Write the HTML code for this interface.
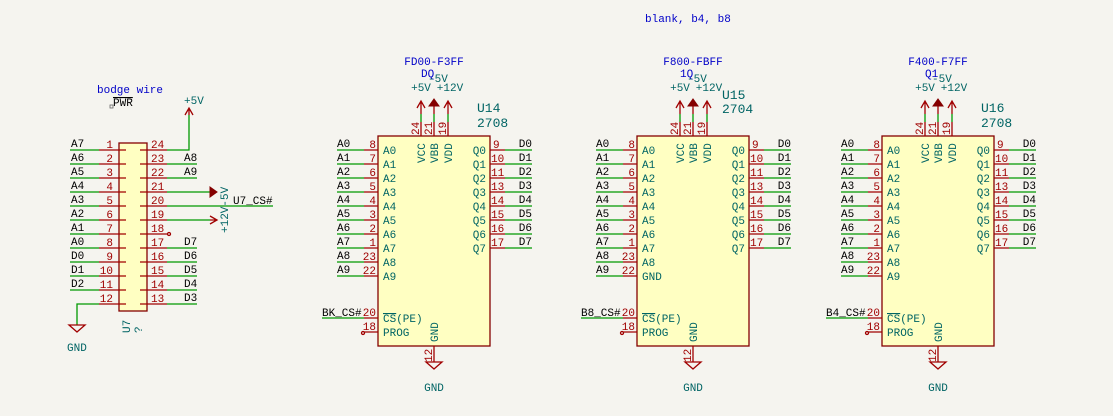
<!DOCTYPE html>
<html><head><meta charset="utf-8"><style>
html,body{margin:0;padding:0;background:#f5f4ef;}
svg{display:block;}
text{font-family:"Liberation Mono",monospace;font-size:11px;}
.r{fill:#a00000}.t{fill:#006464}.k{fill:#000}.b{fill:#0000c8}
.rl{stroke:#a00000;stroke-width:1.3;fill:none}.gl{stroke:#009900;stroke-width:1.3;fill:none}
</style></head><body>
<svg width="1113" height="416" xmlns="http://www.w3.org/2000/svg">
<defs>
<g id="chip">
<rect x="378" y="136" width="112" height="210" fill="#ffffc2" stroke="#840000" stroke-width="1.3"/>
<path class="gl" d="M337 150H364M337 164H364M337 178H364M337 192H364M337 206H364M337 220H364M337 234H364M337 248H364M337 262H364M337 276H364M322 318H364"/>
<path class="rl" d="M364 150H378M364 164H378M364 178H378M364 192H378M364 206H378M364 220H378M364 234H378M364 248H378M364 262H378M364 276H378M364 318H378M364 332H378"/>
<circle cx="363" cy="333" r="1.5" class="rl"/>
<path class="gl" d="M505 150H532M505 164H532M505 178H532M505 192H532M505 206H532M505 220H532M505 234H532M505 248H532"/>
<path class="rl" d="M490 150H505M490 164H505M490 178H505M490 192H505M490 206H505M490 220H505M490 234H505M490 248H505"/>
<path class="gl" d="M421 114V122M434 114V122M448 114V122"/>
<path class="rl" d="M421 122V136M434 122V136M448 122V136M421 101V114M434 101V114M448 101V114M417 108L421 101L425 108M444 108L448 101L452 108M434 346V362"/>
<path d="M429 106L434 99L439 106Z" fill="#840000" stroke="#840000"/>
<path class="rl" d="M426 362H442L434 369Z"/>
</g>
</defs>

<text x="645" y="22" class="b">blank, b4, b8</text>

<text x="97" y="93" class="b">bodge wire</text>
<text x="113" y="106" class="k" style="text-decoration:overline">PWR</text>
<rect x="110" y="105" width="3" height="3" fill="none" stroke="#666" stroke-width="0.8"/>
<text x="184" y="104" class="t">+5V</text>
<rect x="119" y="143" width="28" height="168" fill="#ffffc2" stroke="#840000" stroke-width="1.3"/>
<path class="gl" d="M70 150H99M70 164H99M70 178H99M70 192H99M70 206H99M70 220H99M70 234H99M70 248H99M70 262H99M70 276H99M70 290H99M99 304H77V325M167 150H189V115M167 164H197M167 178H197M167 192H210M167 206H273M167 220H210M167 248H197M167 262H197M167 276H197M167 290H197M167 304H197"/>
<path class="rl" d="M99 150H126M99 164H126M99 178H126M99 192H126M99 206H126M99 220H126M99 234H126M99 248H126M99 262H126M99 276H126M99 290H126M99 304H126M140 150H167M140 164H167M140 178H167M140 192H167M140 206H167M140 220H167M140 234H167M140 248H167M140 262H167M140 276H167M140 290H167M140 304H167M189 115V108M185 115L189 108L193 115M210 220H217M210 216L217 220L210 224M69 325H85L77 332Z"/>
<path d="M210 187L217 192L210 197Z" fill="#840000" stroke="#840000"/>
<circle cx="169" cy="234" r="1.5" class="rl"/>
<g class="r" text-anchor="end">
<text x="113" y="148">1</text><text x="113" y="162">2</text><text x="113" y="176">3</text><text x="113" y="190">4</text><text x="113" y="204">5</text><text x="113" y="218">6</text><text x="113" y="232">7</text><text x="113" y="246">8</text><text x="113" y="260">9</text><text x="113" y="274">10</text><text x="113" y="288">11</text><text x="113" y="302">12</text>
</g>
<g class="r">
<text x="151" y="148">24</text><text x="151" y="162">23</text><text x="151" y="176">22</text><text x="151" y="190">21</text><text x="151" y="204">20</text><text x="151" y="218">19</text><text x="151" y="232">18</text><text x="151" y="246">17</text><text x="151" y="260">16</text><text x="151" y="274">15</text><text x="151" y="288">14</text><text x="151" y="302">13</text>
</g>
<g class="k">
<text x="71" y="147">A7</text><text x="71" y="161">A6</text><text x="71" y="175">A5</text><text x="71" y="189">A4</text><text x="71" y="203">A3</text><text x="71" y="217">A2</text><text x="71" y="231">A1</text><text x="71" y="245">A0</text><text x="71" y="259">D0</text><text x="71" y="273">D1</text><text x="71" y="287">D2</text>
<text x="184" y="161">A8</text><text x="184" y="175">A9</text><text x="184" y="245">D7</text><text x="184" y="259">D6</text><text x="184" y="273">D5</text><text x="184" y="287">D4</text><text x="184" y="301">D3</text>
<text x="233" y="204">U7_CS#</text>
</g>
<text transform="translate(228,233) rotate(-90)" class="t">+12V-5V</text>
<text transform="translate(130,333) rotate(-90)" class="t">U7</text>
<text transform="translate(142,333) rotate(-90)" class="t">?</text>
<text x="67" y="351" class="t">GND</text>

<use href="#chip"/>
<use href="#chip" x="259"/>
<use href="#chip" x="504"/>

<g>
<text x="434" y="65" class="b" text-anchor="middle">FD00-F3FF</text>
<text x="421" y="77" class="b">DQ</text><text x="428" y="82" class="t">-5V</text>
<text x="421" y="91" class="t" text-anchor="middle">+5V</text><text x="450" y="91" class="t" text-anchor="middle">+12V</text>
<text x="477" y="112" class="t" style="font-size:13px">U14</text><text x="477" y="127" class="t" style="font-size:13px">2708</text>
<text x="322" y="316" class="k">BK_CS#</text>
<text x="434" y="391" class="t" text-anchor="middle">GND</text>
</g>
<g transform="translate(259,0)">
<text x="434" y="65" class="b" text-anchor="middle">F800-FBFF</text>
<text x="421" y="77" class="b">1Q</text><text x="428" y="82" class="t">-5V</text>
<text x="421" y="91" class="t" text-anchor="middle">+5V</text><text x="450" y="91" class="t" text-anchor="middle">+12V</text>
<text x="463" y="99" class="t" style="font-size:13px">U15</text><text x="463" y="113" class="t" style="font-size:13px">2704</text>
<text x="322" y="316" class="k">B8_CS#</text>
<text x="434" y="391" class="t" text-anchor="middle">GND</text>
</g>
<g transform="translate(504,0)">
<text x="434" y="65" class="b" text-anchor="middle">F400-F7FF</text>
<text x="421" y="77" class="b">Q1</text><text x="428" y="82" class="t">-5V</text>
<text x="421" y="91" class="t" text-anchor="middle">+5V</text><text x="450" y="91" class="t" text-anchor="middle">+12V</text>
<text x="477" y="112" class="t" style="font-size:13px">U16</text><text x="477" y="127" class="t" style="font-size:13px">2708</text>
<text x="322" y="316" class="k">B4_CS#</text>
<text x="434" y="391" class="t" text-anchor="middle">GND</text>
</g>

<text x="383" y="280" class="t">A9</text>
<text x="642" y="280" class="t">GND</text>
<text x="887" y="280" class="t">A9</text>

<g>
<g class="r" text-anchor="end">
<text x="376" y="148">8</text><text x="376" y="162">7</text><text x="376" y="176">6</text><text x="376" y="190">5</text><text x="376" y="204">4</text><text x="376" y="218">3</text><text x="376" y="232">2</text><text x="376" y="246">1</text><text x="376" y="260">23</text><text x="376" y="274">22</text><text x="376" y="316">20</text><text x="376" y="330">18</text>
</g>
<g class="r">
<text x="493" y="148">9</text><text x="491" y="162">10</text><text x="491" y="176">11</text><text x="491" y="190">13</text><text x="491" y="204">14</text><text x="491" y="218">15</text><text x="491" y="232">16</text><text x="491" y="246">17</text>
<text transform="translate(419,135) rotate(-90)">24</text><text transform="translate(432,135) rotate(-90)">21</text><text transform="translate(446,135) rotate(-90)">19</text>
<text transform="translate(432,362) rotate(-90)">12</text>
</g>
<g class="k">
<text x="337" y="147">A0</text><text x="337" y="161">A1</text><text x="337" y="175">A2</text><text x="337" y="189">A3</text><text x="337" y="203">A4</text><text x="337" y="217">A5</text><text x="337" y="231">A6</text><text x="337" y="245">A7</text><text x="337" y="259">A8</text><text x="337" y="273">A9</text>
</g>
<g class="k" text-anchor="end">
<text x="532" y="147">D0</text><text x="532" y="161">D1</text><text x="532" y="175">D2</text><text x="532" y="189">D3</text><text x="532" y="203">D4</text><text x="532" y="217">D5</text><text x="532" y="231">D6</text><text x="532" y="245">D7</text>
</g>
<g class="t">
<text x="383" y="154">A0</text><text x="383" y="168">A1</text><text x="383" y="182">A2</text><text x="383" y="196">A3</text><text x="383" y="210">A4</text><text x="383" y="224">A5</text><text x="383" y="238">A6</text><text x="383" y="252">A7</text><text x="383" y="266">A8</text>
<text x="383" y="322"><tspan style="text-decoration:overline">CS</tspan>(PE)</text><text x="383" y="336">PROG</text>
<text transform="translate(425,163) rotate(-90)">VCC</text><text transform="translate(438,163) rotate(-90)">VBB</text><text transform="translate(452,163) rotate(-90)">VDD</text>
<text transform="translate(438,342) rotate(-90)">GND</text>
</g>
<g class="t" text-anchor="end">
<text x="486" y="154">Q0</text><text x="486" y="168">Q1</text><text x="486" y="182">Q2</text><text x="486" y="196">Q3</text><text x="486" y="210">Q4</text><text x="486" y="224">Q5</text><text x="486" y="238">Q6</text><text x="486" y="252">Q7</text>
</g>
</g>

<g transform="translate(259,0)">
<g class="r" text-anchor="end">
<text x="376" y="148">8</text><text x="376" y="162">7</text><text x="376" y="176">6</text><text x="376" y="190">5</text><text x="376" y="204">4</text><text x="376" y="218">3</text><text x="376" y="232">2</text><text x="376" y="246">1</text><text x="376" y="260">23</text><text x="376" y="274">22</text><text x="376" y="316">20</text><text x="376" y="330">18</text>
</g>
<g class="r">
<text x="493" y="148">9</text><text x="491" y="162">10</text><text x="491" y="176">11</text><text x="491" y="190">13</text><text x="491" y="204">14</text><text x="491" y="218">15</text><text x="491" y="232">16</text><text x="491" y="246">17</text>
<text transform="translate(419,135) rotate(-90)">24</text><text transform="translate(432,135) rotate(-90)">21</text><text transform="translate(446,135) rotate(-90)">19</text>
<text transform="translate(432,362) rotate(-90)">12</text>
</g>
<g class="k">
<text x="337" y="147">A0</text><text x="337" y="161">A1</text><text x="337" y="175">A2</text><text x="337" y="189">A3</text><text x="337" y="203">A4</text><text x="337" y="217">A5</text><text x="337" y="231">A6</text><text x="337" y="245">A7</text><text x="337" y="259">A8</text><text x="337" y="273">A9</text>
</g>
<g class="k" text-anchor="end">
<text x="532" y="147">D0</text><text x="532" y="161">D1</text><text x="532" y="175">D2</text><text x="532" y="189">D3</text><text x="532" y="203">D4</text><text x="532" y="217">D5</text><text x="532" y="231">D6</text><text x="532" y="245">D7</text>
</g>
<g class="t">
<text x="383" y="154">A0</text><text x="383" y="168">A1</text><text x="383" y="182">A2</text><text x="383" y="196">A3</text><text x="383" y="210">A4</text><text x="383" y="224">A5</text><text x="383" y="238">A6</text><text x="383" y="252">A7</text><text x="383" y="266">A8</text>
<text x="383" y="322"><tspan style="text-decoration:overline">CS</tspan>(PE)</text><text x="383" y="336">PROG</text>
<text transform="translate(425,163) rotate(-90)">VCC</text><text transform="translate(438,163) rotate(-90)">VBB</text><text transform="translate(452,163) rotate(-90)">VDD</text>
<text transform="translate(438,342) rotate(-90)">GND</text>
</g>
<g class="t" text-anchor="end">
<text x="486" y="154">Q0</text><text x="486" y="168">Q1</text><text x="486" y="182">Q2</text><text x="486" y="196">Q3</text><text x="486" y="210">Q4</text><text x="486" y="224">Q5</text><text x="486" y="238">Q6</text><text x="486" y="252">Q7</text>
</g>
</g>

<g transform="translate(504,0)">
<g class="r" text-anchor="end">
<text x="376" y="148">8</text><text x="376" y="162">7</text><text x="376" y="176">6</text><text x="376" y="190">5</text><text x="376" y="204">4</text><text x="376" y="218">3</text><text x="376" y="232">2</text><text x="376" y="246">1</text><text x="376" y="260">23</text><text x="376" y="274">22</text><text x="376" y="316">20</text><text x="376" y="330">18</text>
</g>
<g class="r">
<text x="493" y="148">9</text><text x="491" y="162">10</text><text x="491" y="176">11</text><text x="491" y="190">13</text><text x="491" y="204">14</text><text x="491" y="218">15</text><text x="491" y="232">16</text><text x="491" y="246">17</text>
<text transform="translate(419,135) rotate(-90)">24</text><text transform="translate(432,135) rotate(-90)">21</text><text transform="translate(446,135) rotate(-90)">19</text>
<text transform="translate(432,362) rotate(-90)">12</text>
</g>
<g class="k">
<text x="337" y="147">A0</text><text x="337" y="161">A1</text><text x="337" y="175">A2</text><text x="337" y="189">A3</text><text x="337" y="203">A4</text><text x="337" y="217">A5</text><text x="337" y="231">A6</text><text x="337" y="245">A7</text><text x="337" y="259">A8</text><text x="337" y="273">A9</text>
</g>
<g class="k" text-anchor="end">
<text x="532" y="147">D0</text><text x="532" y="161">D1</text><text x="532" y="175">D2</text><text x="532" y="189">D3</text><text x="532" y="203">D4</text><text x="532" y="217">D5</text><text x="532" y="231">D6</text><text x="532" y="245">D7</text>
</g>
<g class="t">
<text x="383" y="154">A0</text><text x="383" y="168">A1</text><text x="383" y="182">A2</text><text x="383" y="196">A3</text><text x="383" y="210">A4</text><text x="383" y="224">A5</text><text x="383" y="238">A6</text><text x="383" y="252">A7</text><text x="383" y="266">A8</text>
<text x="383" y="322"><tspan style="text-decoration:overline">CS</tspan>(PE)</text><text x="383" y="336">PROG</text>
<text transform="translate(425,163) rotate(-90)">VCC</text><text transform="translate(438,163) rotate(-90)">VBB</text><text transform="translate(452,163) rotate(-90)">VDD</text>
<text transform="translate(438,342) rotate(-90)">GND</text>
</g>
<g class="t" text-anchor="end">
<text x="486" y="154">Q0</text><text x="486" y="168">Q1</text><text x="486" y="182">Q2</text><text x="486" y="196">Q3</text><text x="486" y="210">Q4</text><text x="486" y="224">Q5</text><text x="486" y="238">Q6</text><text x="486" y="252">Q7</text>
</g>
</g>
</svg>
</body></html>
